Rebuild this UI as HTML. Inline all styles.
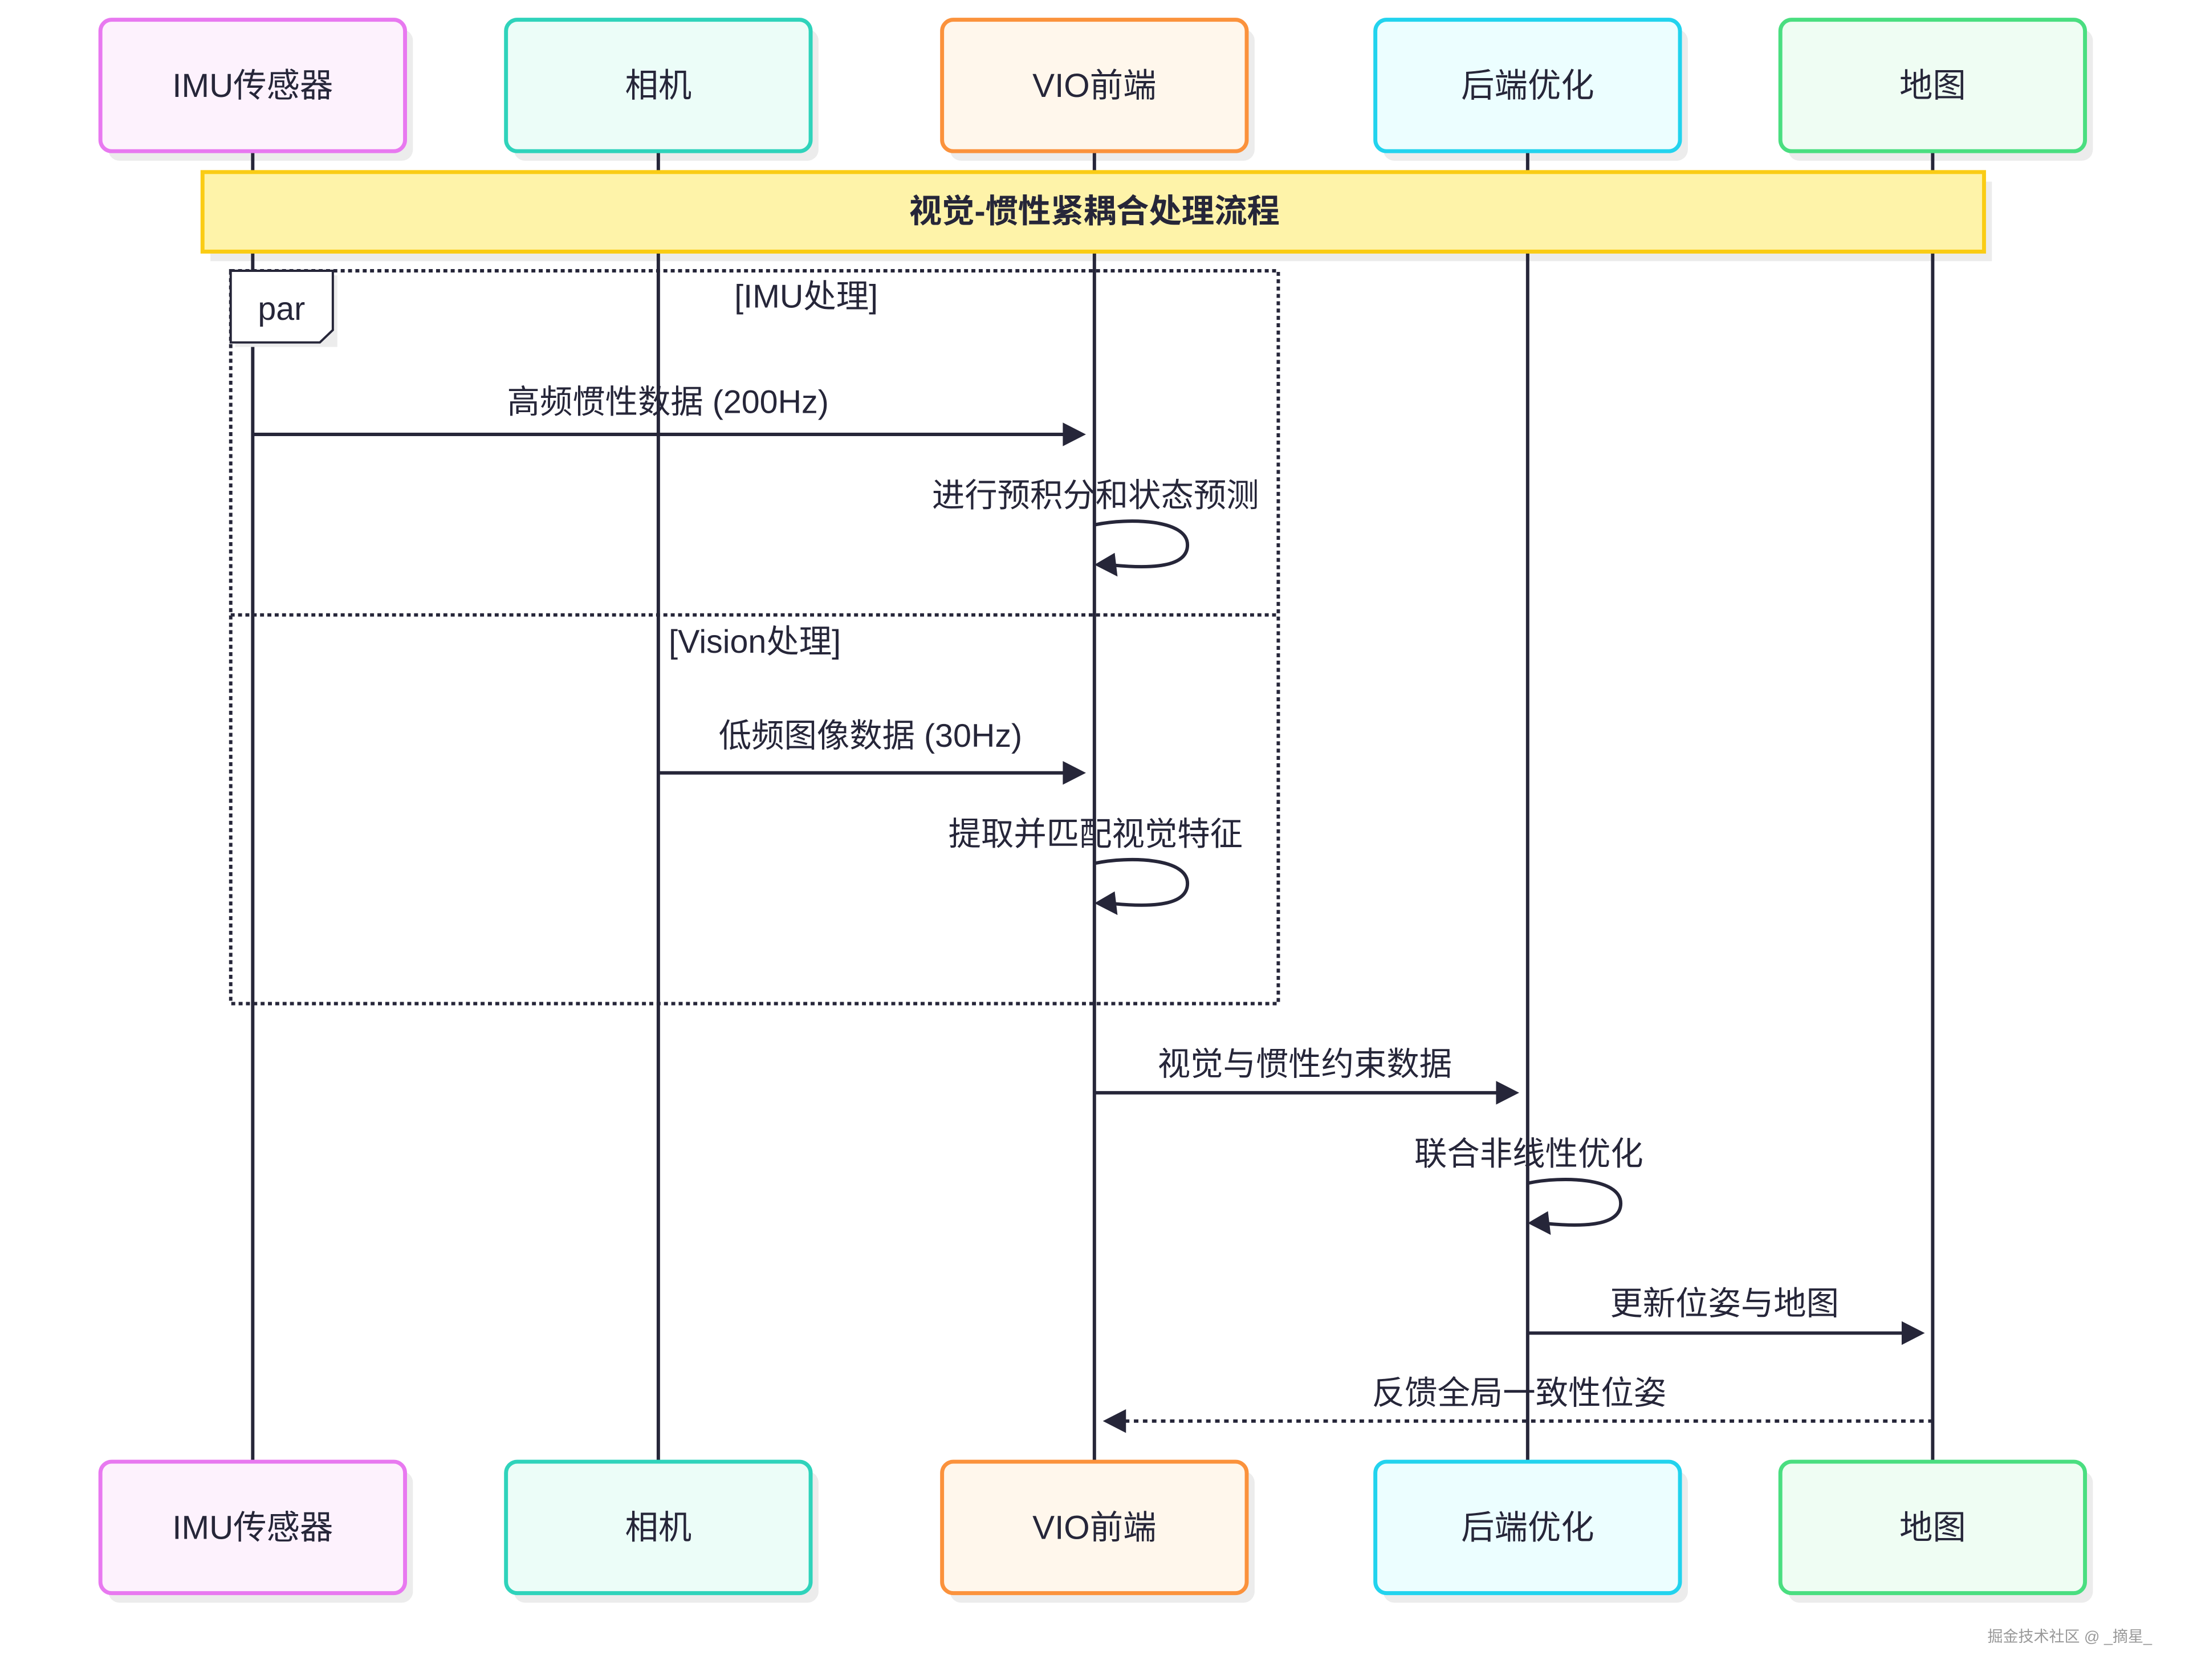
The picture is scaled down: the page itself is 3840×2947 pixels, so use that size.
<!DOCTYPE html>
<html><head><meta charset="utf-8"><style>
html,body{margin:0;padding:0;background:#fff;}
svg{display:block;}
text{font-family:"Liberation Sans","Noto Sans CJK SC",sans-serif;fill:#262639;}
</style></head><body>
<svg width="3840" height="2947" viewBox="0 0 3840 2947" xmlns="http://www.w3.org/2000/svg">
<g transform="scale(0.9896)">
<g fill="#ececec">
<rect x="192" y="52" width="540" height="233" rx="20"/>
<rect x="911" y="52" width="540" height="233" rx="20"/>
<rect x="1684" y="52" width="540" height="233" rx="20"/>
<rect x="2452" y="52" width="540" height="233" rx="20"/>
<rect x="3170" y="52" width="540" height="233" rx="20"/>
<rect x="192" y="2608" width="540" height="233" rx="20"/>
<rect x="911" y="2608" width="540" height="233" rx="20"/>
<rect x="1684" y="2608" width="540" height="233" rx="20"/>
<rect x="2452" y="2608" width="540" height="233" rx="20"/>
<rect x="3170" y="2608" width="540" height="233" rx="20"/>
<rect x="373" y="322" width="3158" height="141"/>
</g>
<g stroke="#262639" stroke-width="6">
<line x1="448" y1="268" x2="448" y2="2591"/>
<line x1="1167" y1="268" x2="1167" y2="2591"/>
<line x1="1940" y1="268" x2="1940" y2="2591"/>
<line x1="2708" y1="268" x2="2708" y2="2591"/>
<line x1="3426" y1="268" x2="3426" y2="2591"/>
</g>
<rect x="359" y="305" width="3158" height="141" fill="#fef3a9" stroke="#facc15" stroke-width="7"/>
<text x="1940" y="394" font-size="58" font-weight="bold" text-anchor="middle">视觉-惯性紧耦合处理流程</text>
<g fill="none" stroke="#262639" stroke-width="6" stroke-dasharray="7,6">
<rect x="409" y="480" width="1857" height="1299"/>
<line x1="409" y1="1090" x2="2266" y2="1090"/>
</g>
<rect x="417" y="488" width="181" height="127" fill="#ececec"/>
<path d="M409 480 H590 V585 L567 607 H409 Z" fill="#fff" stroke="#262639" stroke-width="4"/>
<text x="499" y="567" font-size="58" text-anchor="middle">par</text>
<text x="1429" y="545" font-size="58" text-anchor="middle">[IMU处理]</text>
<text x="1338" y="1157" font-size="58" text-anchor="middle">[Vision处理]</text>
<g font-size="58" text-anchor="middle">
<text x="1184" y="732">高频惯性数据 (200Hz)</text>
<text x="1942" y="898">进行预积分和状态预测</text>
<text x="1543" y="1324">低频图像数据 (30Hz)</text>
<text x="1942" y="1498">提取并匹配视觉特征</text>
<text x="2313" y="1906">视觉与惯性约束数据</text>
<text x="2710" y="2065">联合非线性优化</text>
<text x="3057" y="2330">更新位姿与地图</text>
<text x="2693" y="2489">反馈全局一致性位姿</text>
</g>
<g stroke="#262639" stroke-width="6" fill="none">
<line x1="448" y1="770" x2="1895" y2="770"/>
<line x1="1167" y1="1370" x2="1895" y2="1370"/>
<line x1="1940" y1="1937" x2="2663" y2="1937"/>
<line x1="2708" y1="2363" x2="3381" y2="2363"/>
<line x1="3426" y1="2519" x2="1990" y2="2519" stroke-dasharray="8,8"/>
<path d="M1942 930 C2000 918 2105 920 2105 966 C2105 1006 2040 1008 1975 1002"/>
<path d="M1942 1530 C2000 1518 2105 1520 2105 1566 C2105 1606 2040 1608 1975 1602"/>
<path d="M2710 2097 C2768 2085 2873 2087 2873 2133 C2873 2173 2808 2175 2743 2169"/>
</g>
<g fill="#262639">
<polygon points="1925,770 1884,749 1884,791"/>
<polygon points="1925,1370 1884,1349 1884,1391"/>
<polygon points="2693,1937 2652,1916 2652,1958"/>
<polygon points="3412,2363 3371,2342 3371,2384"/>
<polygon points="1955,2519 1996,2498 1996,2540"/>
<polygon points="1940,1001 1976,980 1981,1022"/>
<polygon points="1940,1601 1976,1580 1981,1622"/>
<polygon points="2708,2168 2744,2147 2749,2189"/>
</g>
<g stroke-width="7">
<rect x="178" y="35" width="540" height="233" rx="20" fill="#fdf2fd" stroke="#e879f0"/>
<rect x="897" y="35" width="540" height="233" rx="20" fill="#ecfdf8" stroke="#2fd3bb"/>
<rect x="1670" y="35" width="540" height="233" rx="20" fill="#fff7ec" stroke="#fb923c"/>
<rect x="2438" y="35" width="540" height="233" rx="20" fill="#ecfeff" stroke="#22d3ee"/>
<rect x="3156" y="35" width="540" height="233" rx="20" fill="#effdf3" stroke="#4ade80"/>
<rect x="178" y="2591" width="540" height="233" rx="20" fill="#fdf2fd" stroke="#e879f0"/>
<rect x="897" y="2591" width="540" height="233" rx="20" fill="#ecfdf8" stroke="#2fd3bb"/>
<rect x="1670" y="2591" width="540" height="233" rx="20" fill="#fff7ec" stroke="#fb923c"/>
<rect x="2438" y="2591" width="540" height="233" rx="20" fill="#ecfeff" stroke="#22d3ee"/>
<rect x="3156" y="2591" width="540" height="233" rx="20" fill="#effdf3" stroke="#4ade80"/>
</g>
<g font-size="59" text-anchor="middle">
<text x="448" y="172">IMU传感器</text>
<text x="1167" y="172">相机</text>
<text x="1940" y="172">VIO前端</text>
<text x="2708" y="172">后端优化</text>
<text x="3426" y="172">地图</text>
<text x="448" y="2728">IMU传感器</text>
<text x="1167" y="2728">相机</text>
<text x="1940" y="2728">VIO前端</text>
<text x="2708" y="2728">后端优化</text>
<text x="3426" y="2728">地图</text>
</g>
</g>
<text x="3775" y="2880" font-size="27" text-anchor="end" style="fill:#999">掘金技术社区 @ _摘星_</text>
</svg>
</body></html>
